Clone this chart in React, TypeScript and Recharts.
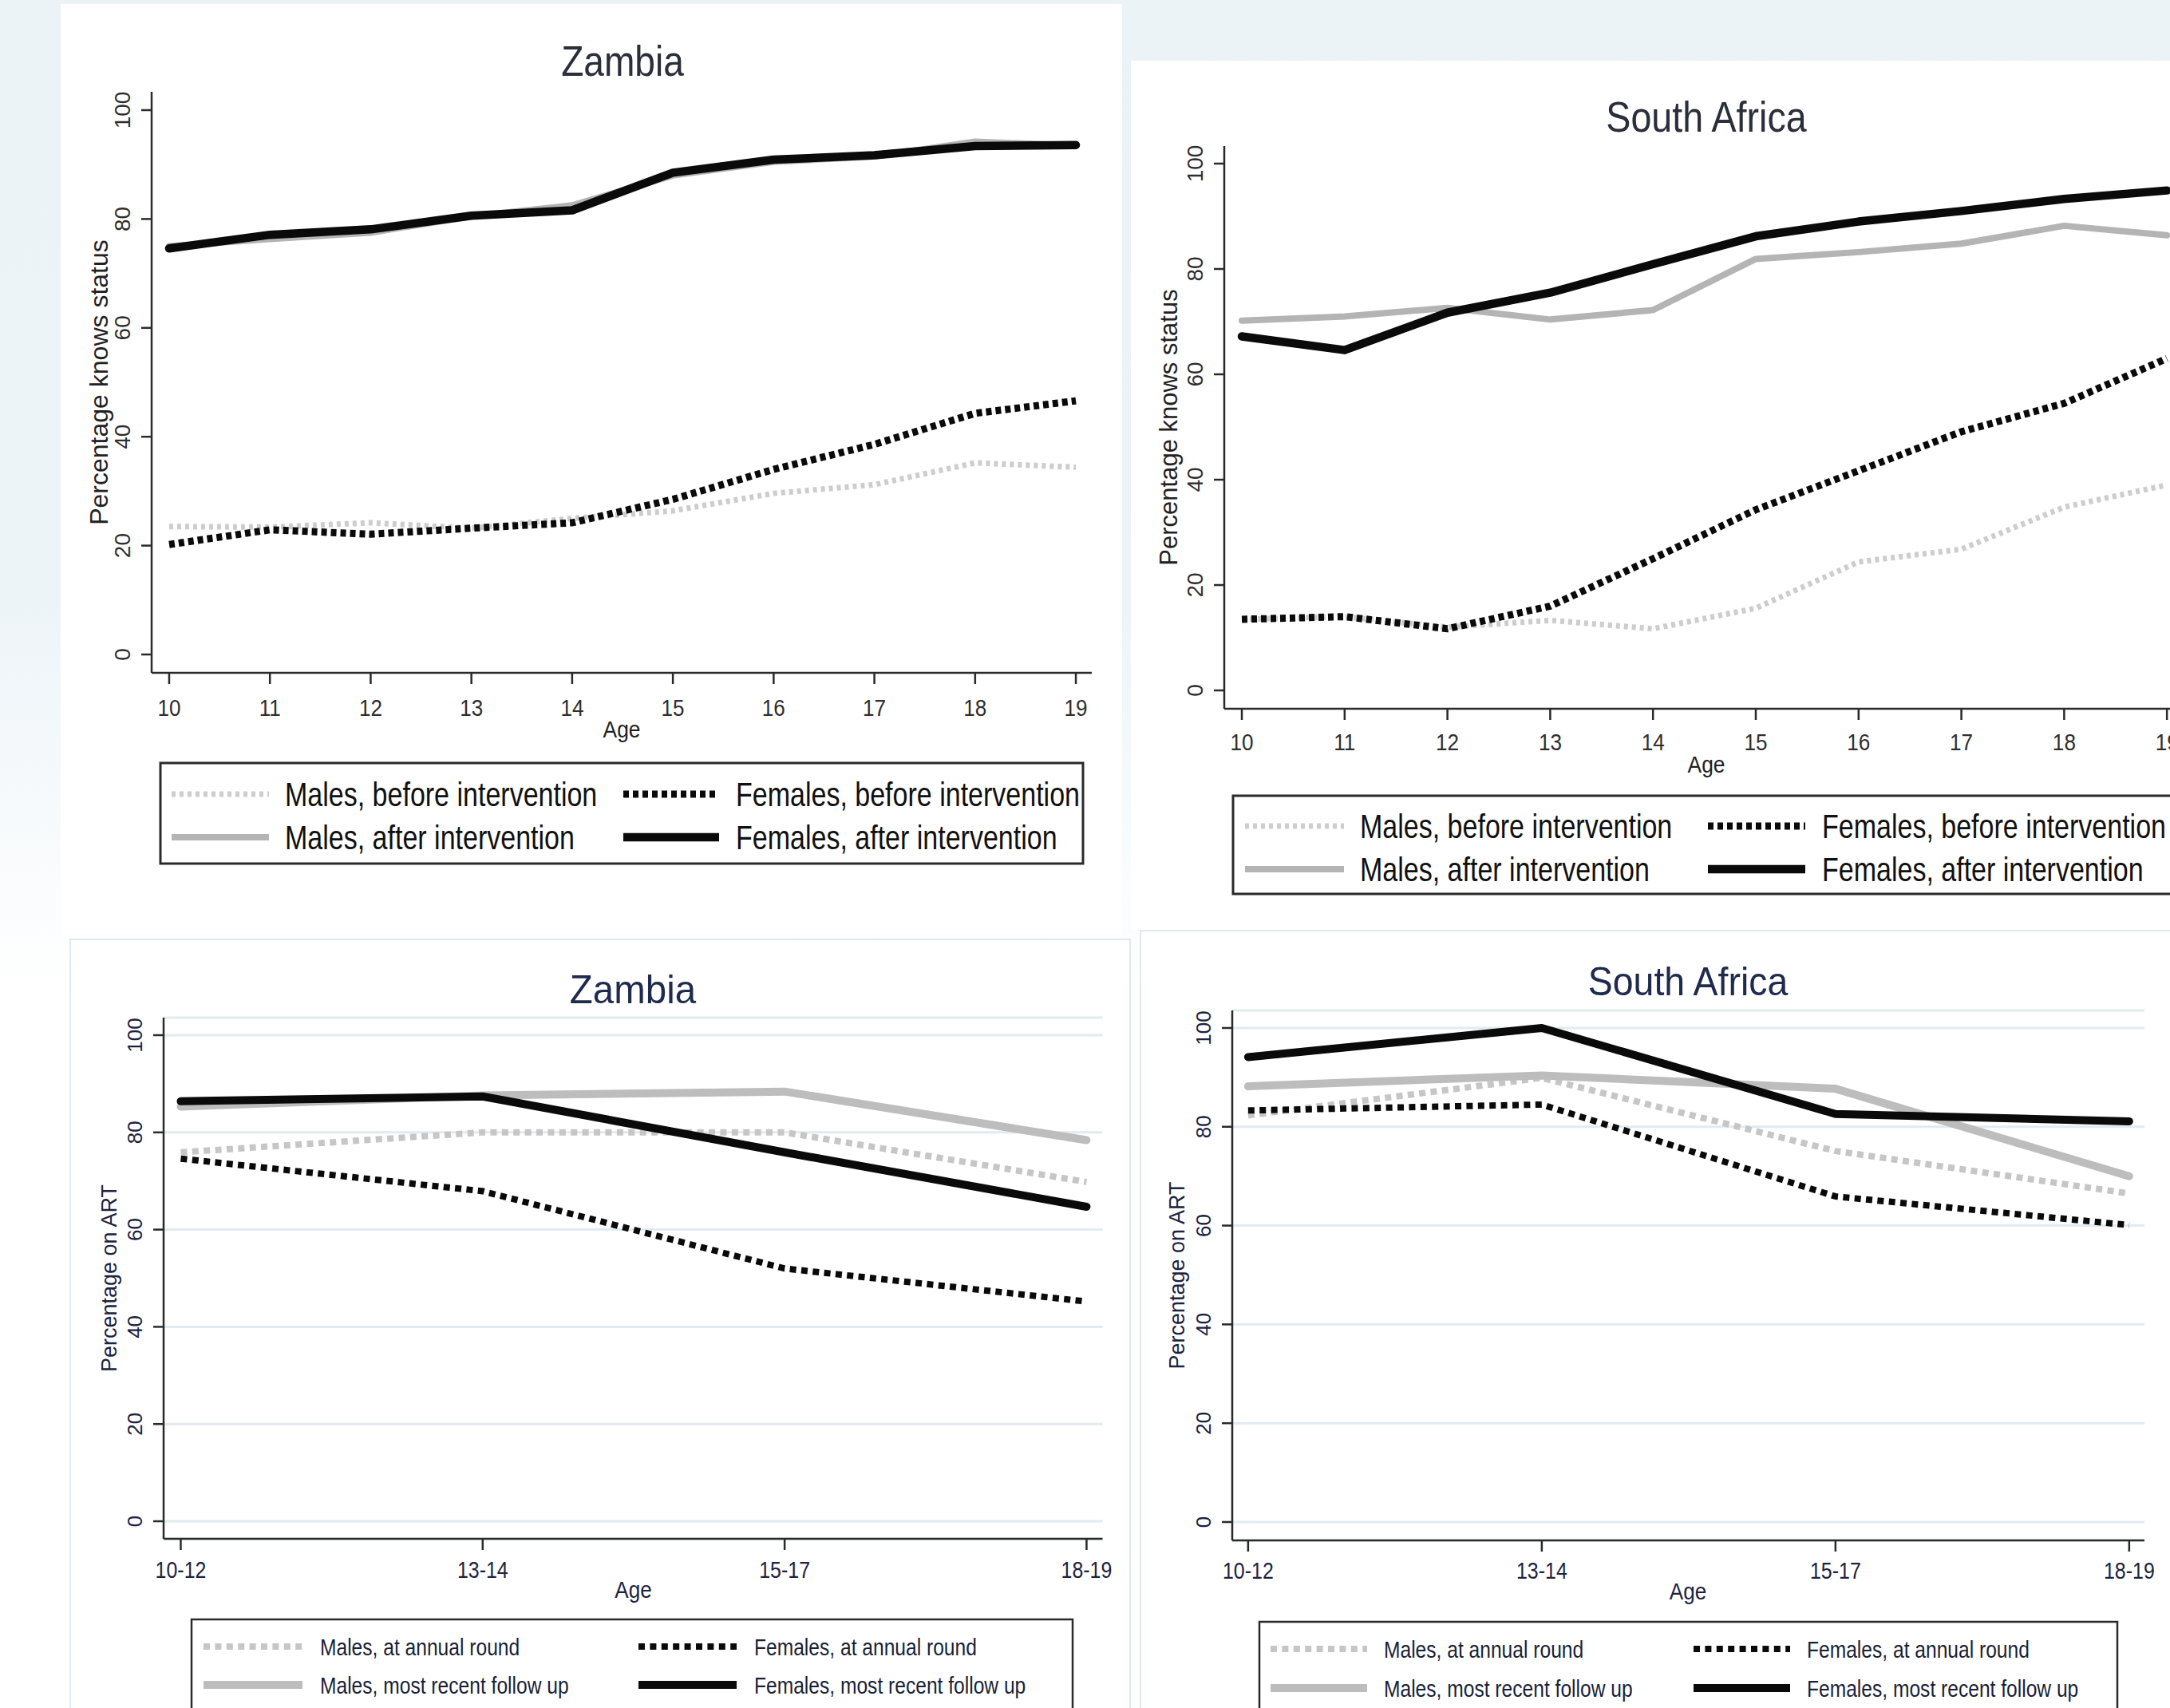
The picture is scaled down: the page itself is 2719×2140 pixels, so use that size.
import React from 'react';
import { LineChart, Line, XAxis, YAxis, CartesianGrid, Label } from 'recharts';

const FONT = '"Liberation Sans", Arial, Helvetica, sans-serif';

// ---------- DATA ----------
const ages = [10, 11, 12, 13, 14, 15, 16, 17, 18, 19];

const zmMalesBefore = [23.5, 23.4, 24.2, 23.2, 25.0, 26.4, 29.6, 31.2, 35.2, 34.4];
const zmFemalesBefore = [20.2, 22.9, 22.1, 23.2, 24.2, 28.5, 34.0, 38.6, 44.3, 46.6];
const zmMalesAfter = [75.0, 76.3, 77.5, 80.5, 82.5, 88.0, 90.5, 91.5, 94.2, 93.5];
const zmFemalesAfter = [74.6, 77.1, 78.1, 80.6, 81.6, 88.5, 90.9, 91.7, 93.4, 93.6];

const saMalesBefore = [13.5, 14.0, 12.0, 13.3, 11.7, 15.6, 24.4, 26.8, 34.8, 39.0];
const saFemalesBefore = [13.5, 14.0, 11.7, 16.0, 25.0, 34.3, 41.7, 49.1, 54.5, 63.0];
const saMalesAfter = [70.2, 71.0, 72.6, 70.4, 72.2, 81.9, 83.2, 84.8, 88.2, 86.4];
const saFemalesAfter = [67.2, 64.6, 71.7, 75.5, 80.9, 86.2, 89.0, 91.0, 93.3, 94.9];

const ageGroups = ['10-12', '13-14', '15-17', '18-19'];

const zmMalesAnnual = [75.9, 80.0, 80.0, 69.8];
const zmFemalesAnnual = [74.6, 67.9, 52.0, 45.2];
const zmMalesRecent = [85.3, 87.6, 88.4, 78.4];
const zmFemalesRecent = [86.4, 87.4, 75.9, 64.7];

const saMalesAnnual = [82.3, 89.9, 75.1, 66.5];
const saFemalesAnnual = [83.3, 84.5, 65.9, 60.1];
const saMalesRecent = [88.2, 90.4, 87.7, 70.0];
const saFemalesRecent = [94.1, 100.0, 82.6, 81.1];

const yTicks = [0, 20, 40, 60, 80, 100];

// ---------- SERIES STYLES ----------
type S = { key: string; name: string; color: string; width: number; dash?: string };

const topSeries: S[] = [
  { key: 'mb', name: 'Males, before intervention', color: '#cdcdcd', width: 7, dash: '5 5' },
  { key: 'ma', name: 'Males, after intervention', color: '#b4b4b4', width: 8 },
  { key: 'fb', name: 'Females, before intervention', color: '#0a0a0a', width: 9, dash: '7 5' },
  { key: 'fa', name: 'Females, after intervention', color: '#0a0a0a', width: 10.5 },
];
const botSeries: S[] = [
  { key: 'ma', name: 'Males, at annual round', color: '#c6c6c6', width: 8, dash: '8 6.4' },
  { key: 'fa', name: 'Females, at annual round', color: '#0a0a0a', width: 8, dash: '8 6.4' },
  { key: 'mr', name: 'Males, most recent follow up', color: '#bdbdbd', width: 10 },
  { key: 'fr', name: 'Females, most recent follow up', color: '#0a0a0a', width: 10 },
];

// legend grid: [row0col0, row0col1, row1col0, row1col1]
const topLegendOrder = ['mb', 'fb', 'ma', 'fa'];
const botLegendOrder = ['ma', 'fa', 'mr', 'fr'];

const zmTopData = ages.map((a, i) => ({ x: a, mb: zmMalesBefore[i], ma: zmMalesAfter[i], fb: zmFemalesBefore[i], fa: zmFemalesAfter[i] }));
const saTopData = ages.map((a, i) => ({ x: a, mb: saMalesBefore[i], ma: saMalesAfter[i], fb: saFemalesBefore[i], fa: saFemalesAfter[i] }));
const zmBotData = ageGroups.map((g, i) => ({ x: i, label: g, ma: zmMalesAnnual[i], fa: zmFemalesAnnual[i], mr: zmMalesRecent[i], fr: zmFemalesRecent[i] }));
const saBotData = ageGroups.map((g, i) => ({ x: i, label: g, ma: saMalesAnnual[i], fa: saFemalesAnnual[i], mr: saMalesRecent[i], fr: saFemalesRecent[i] }));

// ---------- PANEL CONFIG ----------
type Cfg = {
  plotLeft: number; plotRight: number; plotTop: number; plotBottom: number;
  xDomain: [number, number]; yDomain: [number, number];
  xTicks: number[]; xFmt: (v: number) => string;
  data: any[]; series: S[]; grid: boolean;
  xTickFont: number; xTickSx: number; xTickDy: number;
  yTickFont: number; tickColor: string;
  yLabel: string; yLabelFont: number; yLabelCenter: number;
  xLabelCx: number; xLabelBaseline: number; xLabelFont: number; xLabelSx: number;
  textColor: string;
};

const P1: Cfg = {
  plotLeft: 190, plotRight: 1368, plotTop: 115, plotBottom: 843,
  xDomain: [9.826, 19.158], yDomain: [-3.37, 103.37],
  xTicks: ages, xFmt: (v) => String(v), data: zmTopData, series: topSeries, grid: false,
  xTickFont: 29, xTickSx: 0.9, xTickDy: 54, yTickFont: 28, tickColor: '#2e2e2e',
  yLabel: 'Percentage knows status', yLabelFont: 32, yLabelCenter: 127,
  xLabelCx: 779, xLabelBaseline: 924, xLabelFont: 30, xLabelSx: 0.88, textColor: '#222',
};
const P2: Cfg = {
  plotLeft: 1534, plotRight: 2760, plotTop: 183, plotBottom: 888,
  xDomain: [9.829, 19.348], yDomain: [-3.48, 103.33],
  xTicks: ages, xFmt: (v) => String(v), data: saTopData, series: topSeries, grid: false,
  xTickFont: 29, xTickSx: 0.9, xTickDy: 52, yTickFont: 28, tickColor: '#2e2e2e',
  yLabel: 'Percentage knows status', yLabelFont: 31, yLabelCenter: 1467,
  xLabelCx: 2138, xLabelBaseline: 968, xLabelFont: 30, xLabelSx: 0.88, textColor: '#222',
};
const P3: Cfg = {
  plotLeft: 204.5, plotRight: 1381, plotTop: 1275, plotBottom: 1928,
  xDomain: [-0.0568, 3.053], yDomain: [-3.61, 103.61],
  xTicks: [0, 1, 2, 3], xFmt: (v) => ageGroups[v] ?? '', data: zmBotData, series: botSeries, grid: true,
  xTickFont: 29, xTickSx: 0.86, xTickDy: 48.5, yTickFont: 26, tickColor: '#1c2340',
  yLabel: 'Percentage on ART', yLabelFont: 27, yLabelCenter: 138,
  xLabelCx: 793, xLabelBaseline: 2002, xLabelFont: 29, xLabelSx: 0.9, textColor: '#1c2340',
};
const P4: Cfg = {
  plotLeft: 1544, plotRight: 2687, plotTop: 1266, plotBottom: 1930,
  xDomain: [-0.054, 3.052], yDomain: [-3.72, 103.55],
  xTicks: [0, 1, 2, 3], xFmt: (v) => ageGroups[v] ?? '', data: saBotData, series: botSeries, grid: true,
  xTickFont: 29, xTickSx: 0.86, xTickDy: 48, yTickFont: 26, tickColor: '#1c2340',
  yLabel: 'Percentage on ART', yLabelFont: 27, yLabelCenter: 1477,
  xLabelCx: 2115, xLabelBaseline: 2004, xLabelFont: 29, xLabelSx: 0.9, textColor: '#1c2340',
};

const AXIS = '#2a2a2a';
const LM = 200; // local plot left
const TM = 100; // local plot top

function Panel({ cfg }: { cfg: Cfg }) {
  const plotW = cfg.plotRight - cfg.plotLeft;
  const plotH = cfg.plotBottom - cfg.plotTop;
  const W = LM + plotW + 60;
  const H = TM + plotH + 130 + 20;
  const left = cfg.plotLeft - LM;
  const top = cfg.plotTop - TM;
  const XTick = (p: any) => {
    const { x, y, payload } = p;
    return (
      <g transform={`translate(${x},${y + cfg.xTickDy - 14}) scale(${cfg.xTickSx},1)`}>
        <text x={0} y={0} textAnchor="middle" fontSize={cfg.xTickFont} fill={cfg.tickColor} fontFamily={FONT}>
          {cfg.xFmt(payload.value)}
        </text>
      </g>
    );
  };
  const YTick = (p: any) => {
    const { x, y, payload } = p;
    return (
      <text transform={`translate(${x - 14},${y}) rotate(-90)`} x={0} y={0} textAnchor="middle"
        fontSize={cfg.yTickFont} fill={cfg.tickColor} fontFamily={FONT}>
        {payload.value}
      </text>
    );
  };
  const yLabelBx = cfg.yLabelCenter - left + 0.26 * cfg.yLabelFont;
  const yLabelCy = TM + plotH / 2;
  return (
    <div style={{ position: 'absolute', left, top }}>
      <LineChart width={W} height={H} data={cfg.data} margin={{ top: TM, left: 100, right: 60, bottom: 20 }}>
        {cfg.grid && <CartesianGrid vertical={false} stroke="#e2ebf0" strokeWidth={3} />}
        <XAxis type="number" dataKey="x" domain={cfg.xDomain} ticks={cfg.xTicks} allowDataOverflow interval={0}
          height={130} tickSize={14} tickMargin={0}
          axisLine={{ stroke: AXIS, strokeWidth: 2.5 }} tickLine={{ stroke: AXIS, strokeWidth: 2.5 }} tick={XTick}>
          <Label content={() => (
            <g transform={`translate(${cfg.xLabelCx - left},${cfg.xLabelBaseline - top}) scale(${cfg.xLabelSx},1)`}>
              <text x={0} y={0} textAnchor="middle" fontSize={cfg.xLabelFont} fill={cfg.textColor} fontFamily={FONT}>Age</text>
            </g>
          )} />
        </XAxis>
        <YAxis type="number" domain={cfg.yDomain} ticks={yTicks} allowDataOverflow width={100} tickSize={13} tickMargin={0}
          axisLine={{ stroke: AXIS, strokeWidth: 2.5 }} tickLine={{ stroke: AXIS, strokeWidth: 2.5 }} tick={YTick}>
          <Label content={() => (
            <text transform={`translate(${yLabelBx},${yLabelCy}) rotate(-90)`} x={0} y={0} textAnchor="middle"
              fontSize={cfg.yLabelFont} fill={cfg.textColor} fontFamily={FONT}>{cfg.yLabel}</text>
          )} />
        </YAxis>
        {cfg.series.map((s) => (
          <Line key={s.key} dataKey={s.key} name={s.name} type="linear" stroke={s.color} strokeWidth={s.width}
            strokeDasharray={s.dash} strokeLinecap={s.dash ? 'butt' : 'round'} strokeLinejoin="round"
            dot={false} activeDot={false} isAnimationActive={false} />
        ))}
      </LineChart>
    </div>
  );
}

// ---------- LEGENDS / TITLES (overlay) ----------
type LegendCfg = {
  box: { x: number; y: number; w: number; h: number };
  rows: number[];
  cols: { x1: number; x2: number; tx: number }[];
  font: number; sx: number; color: string; series: S[]; order: string[]; border: number;
};

const LG1: LegendCfg = {
  box: { x: 201, y: 956, w: 1156, h: 126 }, rows: [995, 1049],
  cols: [{ x1: 215, x2: 337, tx: 357 }, { x1: 781, x2: 901, tx: 922 }],
  font: 42, sx: 0.81, color: '#111', series: topSeries, order: topLegendOrder, border: 3,
};
const LG2: LegendCfg = {
  box: { x: 1545, y: 997, w: 1200, h: 123 }, rows: [1035, 1089],
  cols: [{ x1: 1560, x2: 1684, tx: 1704 }, { x1: 2140, x2: 2262, tx: 2283 }],
  font: 42, sx: 0.81, color: '#111', series: topSeries, order: topLegendOrder, border: 3,
};
const LG3: LegendCfg = {
  box: { x: 240, y: 2029, w: 1104, h: 200 }, rows: [2063, 2111],
  cols: [{ x1: 255, x2: 379, tx: 401 }, { x1: 800, x2: 923, tx: 945 }],
  font: 30, sx: 0.82, color: '#1a1f36', series: botSeries, order: botLegendOrder, border: 2.5,
};
const LG4: LegendCfg = {
  box: { x: 1578, y: 2032, w: 1075, h: 200 }, rows: [2066, 2115],
  cols: [{ x1: 1592, x2: 1713, tx: 1734 }, { x1: 2122, x2: 2243, tx: 2264 }],
  font: 30, sx: 0.82, color: '#1a1f36', series: botSeries, order: botLegendOrder, border: 2.5,
};

function LegendBox({ c }: { c: LegendCfg }) {
  return (
    <g>
      <rect x={c.box.x} y={c.box.y} width={c.box.w} height={c.box.h} fill="#fff" stroke="#2a2a2a" strokeWidth={c.border} />
      {c.order.map((key, idx) => {
        const s = c.series.find((q) => q.key === key)!;
        const cc = c.cols[idx % 2];
        const y = c.rows[Math.floor(idx / 2)];
        return (
          <g key={key}>
            <line x1={cc.x1} x2={cc.x2} y1={y} y2={y} stroke={s.color} strokeWidth={s.width}
              strokeDasharray={s.dash} strokeLinecap="butt" />
            <g transform={`translate(${cc.tx},${y + 0.358 * c.font}) scale(${c.sx},1)`}>
              <text x={0} y={0} fontSize={c.font} fill={c.color} fontFamily={FONT}>{s.name}</text>
            </g>
          </g>
        );
      })}
    </g>
  );
}

const titles = [
  { text: 'Zambia', cx: 780, by: 95, size: 53, sx: 0.87, color: '#2b2f3a' },
  { text: 'South Africa', cx: 2138, by: 165, size: 53, sx: 0.88, color: '#2b2f3a' },
  { text: 'Zambia', cx: 793, by: 1257, size: 50, sx: 0.95, color: '#1f2a4d' },
  { text: 'South Africa', cx: 2115, by: 1247, size: 50, sx: 0.93, color: '#1f2a4d' },
];

export default function App() {
  return (
    <div style={{
      position: 'absolute', left: 0, top: 0, width: 2719, height: 2140, overflow: 'hidden',
      background: 'linear-gradient(180deg, #ebf3f7 0%, #edf4f8 35%, #ffffff 58%, #ffffff 100%)',
      fontFamily: FONT,
    }}>
      {/* panel backgrounds */}
      <div style={{ position: 'absolute', left: 76, top: 5, width: 1330, height: 1165, background: '#fff' }} />
      <div style={{ position: 'absolute', left: 1417, top: 76, width: 1400, height: 1089, background: '#fff' }} />
      <div style={{ position: 'absolute', left: 87, top: 1176, width: 1330, height: 1100, background: '#fff', border: '2px solid #dfe9ee', boxSizing: 'border-box' }} />
      <div style={{ position: 'absolute', left: 1428, top: 1165, width: 1400, height: 1100, background: '#fff', border: '2px solid #dfe9ee', boxSizing: 'border-box' }} />

      <Panel cfg={P1} />
      <Panel cfg={P2} />
      <Panel cfg={P3} />
      <Panel cfg={P4} />

      <svg width={2719} height={2140} style={{ position: 'absolute', left: 0, top: 0, pointerEvents: 'none' }}>
        {titles.map((t, i) => (
          <g key={i} transform={`translate(${t.cx},${t.by}) scale(${t.sx},1)`}>
            <text x={0} y={0} textAnchor="middle" fontSize={t.size} fill={t.color} fontFamily={FONT}>{t.text}</text>
          </g>
        ))}
        <LegendBox c={LG1} />
        <LegendBox c={LG2} />
        <LegendBox c={LG3} />
        <LegendBox c={LG4} />
      </svg>
    </div>
  );
}
